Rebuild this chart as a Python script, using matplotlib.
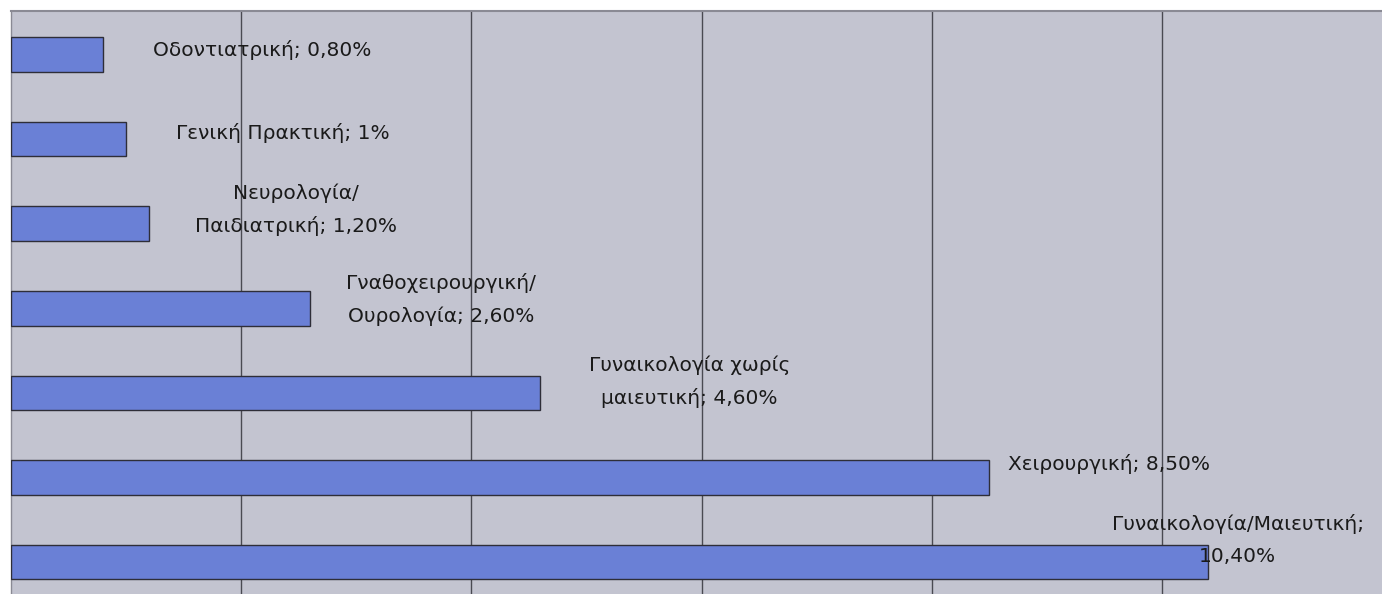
import matplotlib
matplotlib.use("Agg")
import matplotlib.pyplot as plt

# δεδομένα (από πάνω προς τα κάτω)
categories = [
    "Οδοντιατρική",
    "Γενική Πρακτική",
    "Νευρολογία/\nΠαιδιατρική",
    "Γναθοχειρουργική/\nΟυρολογία",
    "Γυναικολογία χωρίς\nμαιευτική",
    "Χειρουργική",
    "Γυναικολογία/Μαιευτική;\n",
]
values = [0.8, 1.0, 1.2, 2.6, 4.6, 8.5, 10.4]
value_texts = ["0,80%", "1%", "1,20%", "2,60%", "4,60%", "8,50%", "10,40%"]

# θέση ετικετών σε pixels σε σχέση με το άκρο κάθε μπάρας
label_dx = [159, 157, 147, 131, 149, 120, 30]
label_dy = [4, 6, 14, 9, 11, 14, 22]

W, H = 1382, 594
fig = plt.figure(figsize=(W / 100, H / 100), dpi=100)
fig.patch.set_facecolor("white")
ax = fig.add_axes([11 / W, 0, 1 - 11 / W, 1 - 11 / H])
ax.set_facecolor("#c3c4d0")

ypos = list(range(len(values)))
ax.barh(ypos, values, height=0.41, color="#6a80d6",
        edgecolor="#2e2e38", linewidth=1.0, zorder=3)

ax.set_xlim(0, (W - 12) / 115)
ax.set_ylim(6.377, -0.514)
ax.set_xticks([2, 4, 6, 8, 10])
ax.grid(axis="x", color="#4a4a52", linewidth=1.0, zorder=1)
ax.tick_params(left=False, bottom=False, labelleft=False, labelbottom=False)
for side in ["right", "bottom"]:
    ax.spines[side].set_visible(False)
ax.spines["top"].set_color("#8a8a94")
ax.spines["top"].set_linewidth(1.5)
ax.spines["left"].set_color("#8a8a94")
ax.spines["left"].set_linewidth(1.0)

for i, (cat, v, vt) in enumerate(zip(categories, values, value_texts)):
    if cat.endswith("\n"):
        txt = cat + vt
    else:
        txt = cat + "; " + vt
    ax.annotate(txt, xy=(v, i), xytext=(label_dx[i], label_dy[i]),
                textcoords="offset pixels", ha="center", va="center",
                fontsize=14.5, color="#1a1a1a", linespacing=1.85,
                family=["DejaVu Sans"], zorder=4)

fig.savefig("out.png", dpi=100)
